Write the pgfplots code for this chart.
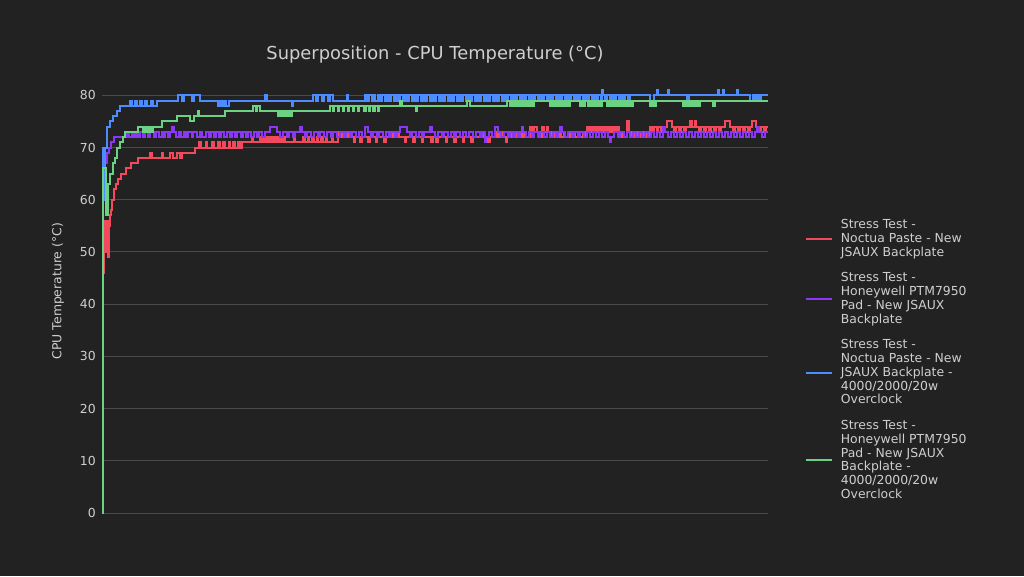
\documentclass[border=0pt]{standalone}
\usepackage{fontspec}
\setmainfont{DejaVu Sans}
\usepackage{pgfplots}
\pgfplotsset{compat=1.18}

\definecolor{bgc}{HTML}{222222}
\definecolor{gridc}{HTML}{4A4A4A}
\definecolor{txtc}{HTML}{CFCFCF}
\definecolor{redc}{HTML}{F2495C}
\definecolor{purc}{HTML}{8A38F5}
\definecolor{bluc}{HTML}{4D8CFF}
\definecolor{grnc}{HTML}{6CD283}

\begin{document}
\begin{tikzpicture}
\fill[bgc] (0,0) rectangle (768pt,432pt);
\begin{axis}[
    at={(76.5pt,47.25pt)}, anchor=south west,
    scale only axis, width=499.5pt, height=332.8pt,
    xmin=0, xmax=666, ymin=0, ymax=85,
    xtick=\empty, ytick={0,10,...,80},
    ymajorgrids, grid style={gridc, line width=0.75pt},
    axis line style={draw=none}, major tick length=0pt,
    clip=false,
    /pgf/number format/assume math mode=true,
    tick label style={text=txtc, font=\fontsize{9.3}{11}\selectfont},
    yticklabel style={inner sep=0pt, xshift=-4.5pt},
    title={Superposition - CPU Temperature (°C)},
    title style={at={(0.5,1)}, anchor=center, yshift=4.7pt, inner sep=0pt,
        text=txtc, font=\fontsize{13.4}{15}\selectfont},
    ylabel={CPU Temperature (°C)},
    ylabel style={at={(axis description cs:-0.066,0.5)}, anchor=center,
        text=txtc, font=\fontsize{9.3}{11}\selectfont},
    legend cell align=left,
    legend style={draw=none, fill=none, at={(1.0556,0.668)}, anchor=north west,
        inner sep=0pt, outer sep=0pt, row sep=6.6pt, column sep=3.9pt,
        font=\fontsize{9.3}{10.4}\selectfont, text=txtc,
        cells={anchor=west, align=left, inner sep=0pt}},
    legend image code/.code={\draw[#1, line width=1.5pt] (0pt,0pt) -- (19.5pt,0pt);},
]
% Stress Test - Noctua Paste - New JSAUX Backplate
\addplot[redc, line width=1.5pt, const plot, no markers] coordinates {
(0,44)(1,46)(2,53)(3,56)(4,50)(5,56)(6,49)(7,55)(8,57)(9,58)(10,60)(12,62)(14,63)(16,64)(19,65)(24,66)(29,67)(36,68)
(48,69)(50,68)(60,69)(61,68)(68,69)(71,68)(75,69)(78,68)(80,69)
(93,70)(97,71)(99,70)(104,71)(105,70)(110,71)(112,70)(116,71)(118,70)(121,71)(123,70)(127,71)(128,70)(131,71)(133,70)(136,71)(138,70)(140,71)
(150,72)(151,71)
(158,72)(160,71)(161,72)(163,71)(164,72)(166,71)(168,72)(169,71)(171,72)(173,71)(174,72)(176,71)(178,72)(179,71)(181,72)(183,71)
(192,72)(193,71)
(201,72)(203,71)(206,72)(207,71)(210,72)(212,71)(215,72)(216,71)(219,72)(221,71)(224,72)(225,71)(230,72)(231,71)
(236,72)(237,73)(239,72)(240,73)(242,72)(243,73)(246,72)
(252,71)(253,72)(258,71)(260,72)(266,71)(268,72)(274,71)(275,72)(282,71)(284,72)
(288,73)(290,72)(292,73)(293,72)(295,73)(297,72)
(303,71)(304,72)(311,71)(313,72)(320,71)(321,72)(329,71)(331,72)(334,71)(336,72)(344,71)(345,72)(352,71)(354,72)(361,71)(362,72)(369,71)(371,72)
(378,73)(381,72)(386,71)(388,72)(395,73)(397,72)(398,73)(401,72)(404,71)(405,72)
(408,73)(410,72)(413,73)(415,72)(418,73)(420,72)(422,73)(424,72)(428,74)(430,73)(432,74)(435,73)(437,72)(440,74)(442,73)(445,74)(446,73)(449,72)
(452,73)(454,72)(457,73)(459,72)(462,73)(463,72)(466,73)(468,72)(471,73)(473,72)(476,73)(478,72)(481,73)(483,72)
(485,74)(487,73)(489,74)(491,73)(492,74)(494,73)(496,74)(498,73)(500,74)(502,73)(503,74)(505,73)(507,74)(509,73)(511,74)(513,73)(515,74)(517,73)
(518,72)(520,73)(522,72)(525,75)(527,73)(529,72)(531,73)(533,72)(535,73)(537,72)(539,73)(541,72)(543,73)(545,72)(547,73)
(548,74)(550,73)(552,74)(555,73)(556,74)(559,73)(561,74)(565,75)(570,74)(572,73)(574,74)(577,73)(579,74)(582,73)(584,74)(588,75)(590,74)(593,75)(594,74)
(597,73)(599,74)(602,73)(604,74)(607,73)(609,74)(612,73)(614,74)(617,73)(619,74)(623,75)(628,74)(631,73)(633,74)(636,73)(638,74)(641,73)(643,74)
(646,73)(648,74)(650,75)(654,74)(657,73)(659,74)(662,73)(664,74)(666,74)
};
\addlegendentry{Stress Test -\\Noctua Paste - New\\JSAUX Backplate}
% Stress Test - Honeywell PTM7950 Pad - New JSAUX Backplate
\addplot[purc, line width=1.5pt, const plot, no markers] coordinates {
(0,70)(1,66)(2,69)(3,67)(5,69)(7,70)(9,71)(12,72)(25,73)(27,72)(30,73)(32,72)(34,73)(36,72)(38,73)(41,72)(43,73)(46,72)(48,73)
(52,72)(54,73)(57,72)(60,73)(62,72)(63,73)(66,72)(68,73)(70,74)(72,73)(74,72)(77,73)(79,72)(82,73)(84,72)(86,73)(90,72)(91,73)(95,72)(98,73)
(100,72)(104,73)(107,72)(109,73)(112,72)(114,73)(117,72)(119,73)(122,72)(125,73)(128,72)(130,73)(133,72)(135,73)(139,72)(141,73)(144,72)(146,73)
(149,72)(152,73)(155,72)(157,73)(160,72)(163,73)(168,74)(175,73)(178,72)(181,73)(185,72)(187,73)(191,72)(193,73)(198,74)(200,73)(203,72)(205,73)
(209,72)(212,73)(216,72)(218,73)(222,72)(225,73)(229,72)(231,73)(235,72)(238,73)(242,72)(244,73)(248,72)(250,73)(254,72)(257,73)(260,72)(263,74)
(266,73)(269,72)(271,73)(275,72)(277,73)(281,72)(284,73)(287,72)(289,73)(293,72)(295,73)(298,74)(305,73)(308,72)(310,73)(314,72)(317,73)(320,72)
(322,73)(328,74)(330,73)(333,72)(336,73)(340,72)(342,73)(346,72)(349,73)(352,72)(354,73)(358,72)(361,73)(364,72)(367,73)(371,72)(374,73)(378,72)
(380,73)(383,71)(384,72)(387,73)(390,72)(393,74)(396,73)(399,72)(402,73)(406,72)(408,73)(411,72)(413,73)(416,72)(418,73)(420,74)(421,73)(424,72)
(427,73)(430,72)(432,73)(436,72)(438,73)(442,72)(445,73)(448,72)(451,73)(454,72)(456,73)(458,74)(460,73)(463,72)(466,73)(470,72)(472,73)(476,72)
(478,73)(482,72)(485,73)(488,72)(491,73)(494,72)(497,73)(500,72)(503,73)(506,72)(508,71)(509,72)(512,73)(516,72)(518,73)(522,72)(525,73)(528,72)
(531,73)(534,72)(537,73)(540,72)(543,73)(546,72)(549,73)(552,72)(555,73)(558,72)(561,74)(563,73)(566,72)(569,73)(572,72)(575,73)(578,72)(581,73)
(584,72)(587,73)(590,72)(593,73)(596,72)(599,73)(602,72)(605,73)(608,72)(611,73)(614,72)(617,73)(620,72)(623,73)(626,72)(629,73)(632,72)(635,73)
(638,72)(641,73)(644,72)(647,73)(650,72)(653,73)(655,74)(657,73)(660,72)(663,73)(666,73)
};
\addlegendentry{Stress Test -\\Honeywell PTM7950\\Pad - New JSAUX\\Backplate}
% Stress Test - Noctua Paste - New JSAUX Backplate - 4000/2000/20w Overclock
\addplot[bluc, line width=1.5pt, const plot, no markers] coordinates {
(0,70)(1,62)(2,60)(3,70)(5,74)(8,75)(11,76)(15,77)(18,78)(28,79)(30,78)(33,79)(35,78)(38,79)(40,78)(43,79)(45,78)(49,79)(51,78)(55,79)
(76,80)(80,79)(82,80)(90,79)(92,80)(98,79)
(116,78)(118,79)(120,78)(122,79)(124,78)(127,79)
(163,80)(165,79)(190,78)(191,79)
(211,80)(214,79)(216,80)(220,79)(222,80)(226,79)(228,80)(231,79)(245,80)(246,79)
(263,80)(265,79)(267,80)(270,79)(271,80)(273,79)(276,80)(278,79)(280,80)(283,79)(285,80)(287,79)(289,80)(292,79)(294,80)(296,79)(298,80)(301,79)
(303,80)(305,79)(307,80)(310,79)(312,80)(314,79)(316,80)(319,79)(321,80)(323,79)(325,80)(328,79)(330,80)(332,79)(334,80)(337,79)(339,80)(341,79)
(343,80)(346,79)(348,80)(350,79)(352,80)(355,79)(357,80)(359,79)(361,80)(364,79)(366,80)(368,79)(370,80)(373,79)(375,80)(377,79)(379,80)(382,79)
(384,80)(386,79)(388,80)(391,79)(393,80)(395,79)(397,80)(400,79)(402,80)(404,79)(406,80)(409,79)(411,80)(413,79)(415,80)(418,79)(420,80)(422,79)
(424,80)(427,79)(429,80)(431,79)(433,80)(436,79)(438,80)(440,79)(442,80)(445,79)(447,80)(449,79)(451,80)(454,79)(456,80)(458,79)(460,80)(463,79)
(465,80)(467,79)(469,80)(472,79)(474,80)(476,79)(478,80)(481,79)(483,80)(485,79)(487,80)(490,79)(492,80)(494,79)(496,80)(499,79)(500,81)(501,80)
(503,79)(505,80)(508,79)(510,80)(512,79)(514,80)(517,79)(519,80)(521,79)(523,80)(526,79)(528,80)
(548,79)(552,80)(555,81)(556,80)(566,81)(567,80)(585,79)(587,80)(616,81)(617,80)(621,81)(622,80)(635,81)(636,80)
(648,79)(651,80)(653,79)(655,80)(657,79)(659,80)(666,80)
};
\addlegendentry{Stress Test -\\Noctua Paste - New\\JSAUX Backplate -\\4000/2000/20w\\Overclock}
% Stress Test - Honeywell PTM7950 Pad - New JSAUX Backplate - 4000/2000/20w Overclock
\addplot[grnc, line width=1.5pt, const plot, no markers] coordinates {
(0,0)(1,66)(4,57)(6,63)(8,65)(11,67)(13,68)(15,70)(18,71)(21,72)(23,73)(36,74)(41,73)(43,74)(45,73)(47,74)(49,73)(51,74)(60,75)(75,76)(88,75)(92,76)
(96,77)(97,76)(123,77)(151,78)(154,77)(155,78)(158,77)
(176,76)(177,77)(179,76)(180,77)(182,76)(183,77)(185,76)(186,77)(188,76)(190,77)
(228,78)(231,77)(232,78)(236,77)(237,78)(241,77)(242,78)(246,77)(247,78)(251,77)(252,78)(256,77)(257,78)(262,77)(264,78)(267,77)(268,78)(271,77)
(273,78)(276,77)(277,78)(298,79)(300,78)(314,77)(315,78)(365,79)(368,78)
(405,79)(408,78)(410,79)(412,78)(413,79)(415,78)(417,79)(419,78)(420,79)(422,78)(424,79)(426,78)(428,79)(430,78)(432,79)
(448,78)(450,79)(452,78)(453,79)(455,78)(457,79)(459,78)(461,79)(463,78)(465,79)(467,78)(468,79)
(478,78)(480,79)(482,78)(483,79)(486,78)(488,79)(490,78)(492,79)(494,78)(496,79)(498,78)(500,79)
(505,78)(507,79)(509,78)(511,79)(513,78)(515,79)(517,78)(519,79)(521,78)(523,79)(525,78)(527,79)(529,78)(531,79)
(548,78)(550,79)(552,78)(554,79)
(581,78)(583,79)(585,78)(587,79)(589,78)(591,79)(593,78)(595,79)(597,78)(598,79)
(611,78)(613,79)(666,79)
};
\addlegendentry{Stress Test -\\Honeywell PTM7950\\Pad - New JSAUX\\Backplate -\\4000/2000/20w\\Overclock}
\end{axis}
\end{tikzpicture}
\end{document}
